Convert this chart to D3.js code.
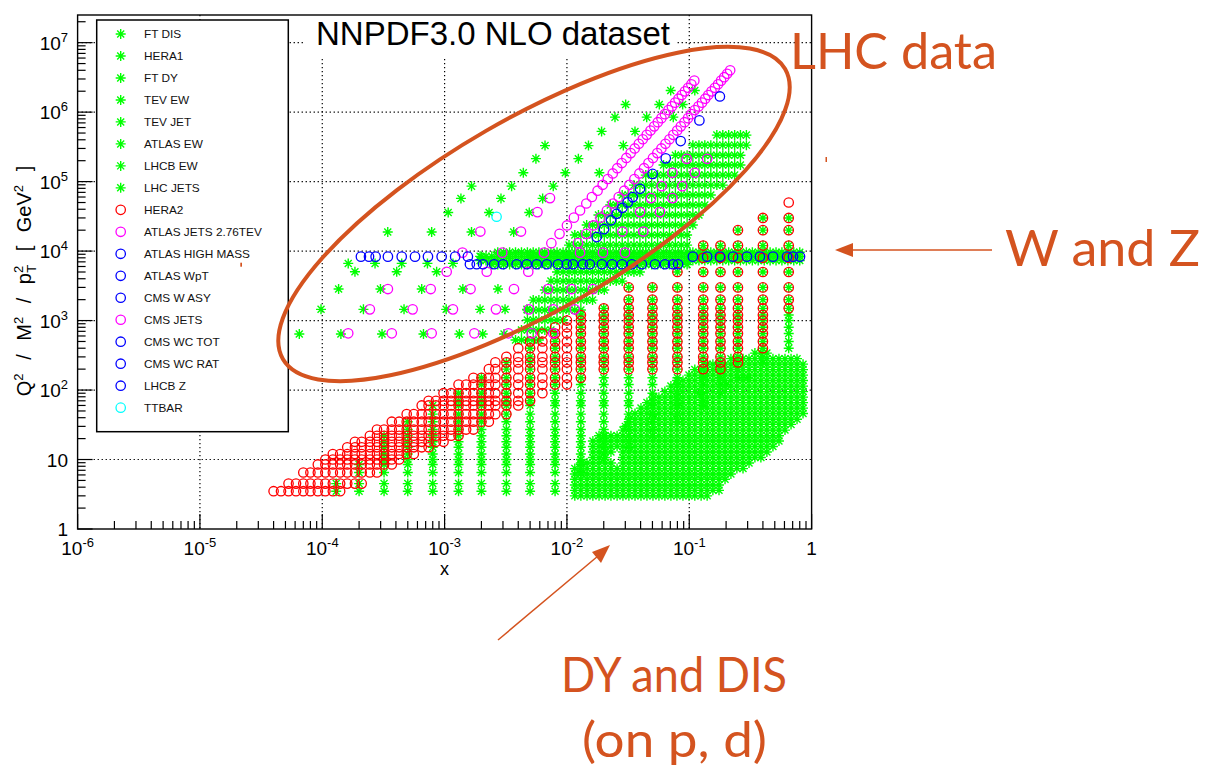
<!DOCTYPE html>
<html>
<head>
<meta charset="utf-8">
<script src="https://cdn.jsdelivr.net/npm/d3@7"></script>
<style>
  body { margin: 0; background: #fff; }
  svg text { font-family: "Liberation Sans", Arial, Helvetica, sans-serif; }
  svg text.note { font-family: Lato, "Open Sans", sans-serif; }
</style>
</head>
<body>
<svg id="chart" width="1205" height="772"></svg>
<script>
// ---- axis labels ----
const xTickLabels = ["10^-6", "10^-5", "10^-4", "10^-3", "10^-2", "10^-1", "1"];
const xTickValues = [1e-6, 1e-5, 1e-4, 1e-3, 1e-2, 1e-1, 1];
const yTickLabels = ["1", "10", "10^2", "10^3", "10^4", "10^5", "10^6", "10^7"];
const yTickValues = [1, 10, 1e2, 1e3, 1e4, 1e5, 1e6, 1e7];

// ---- legend ----
const legendNames = ["FT DIS", "HERA1", "FT DY", "TEV EW", "TEV JET", "ATLAS EW", "LHCB EW", "LHC JETS",
  "HERA2", "ATLAS JETS 2.76TEV", "ATLAS HIGH MASS", "ATLAS WpT", "CMS W ASY", "CMS JETS",
  "CMS WC TOT", "CMS WC RAT", "LHCB Z", "TTBAR"];

// ---- bins (x or Q2 values shared by the gridded data sets) ----
const heraQ2 = [3.5, 4.5, 6.5, 8.5, 10, 12, 15, 18, 22, 27, 35, 45, 60, 70, 90, 120, 150, 200, 250, 300,
  400, 500, 650, 800, 1000, 1200, 1500, 2000, 3000, 5000, 8000, 12000, 20000, 30000, 50000];
const heraX = [4.0e-5, 4.6e-5, 5.3e-5, 6.1e-5, 7.0e-5, 8.0e-5, 9.2e-5, 1.06e-4, 1.22e-4, 1.4e-4, 1.6e-4,
  1.85e-4, 2.1e-4, 2.45e-4, 2.8e-4, 3.2e-4, 3.7e-4, 4.25e-4, 4.9e-4, 5.6e-4, 6.5e-4, 7.4e-4, 8.5e-4,
  9.8e-4, 1.13e-3, 1.3e-3, 1.5e-3, 1.72e-3, 2.0e-3, 2.3e-3, 2.6e-3, 3.2e-3, 4.0e-3, 5.0e-3, 6.3e-3,
  8.0e-3, 1.0e-2, 1.3e-2, 2.0e-2, 3.2e-2, 5.0e-2, 8.0e-2, 0.13, 0.18, 0.25, 0.4, 0.65];
const ftQ2 = [3, 3.6, 4.3, 5.2, 6.2, 7.4, 8.9, 10.7, 12.8, 15.4, 18.5, 22, 26.5, 32, 38, 46, 55, 66, 79,
  95, 114, 137, 164, 197, 236, 283, 340];
const fineX = [1.0e-3, 1.12e-3, 1.25e-3, 1.4e-3, 1.56e-3, 1.74e-3, 1.95e-3, 2.18e-3, 2.43e-3, 2.72e-3,
  3.04e-3, 3.4e-3, 3.8e-3, 4.25e-3, 4.75e-3, 5.3e-3, 5.9e-3, 6.6e-3, 7.4e-3, 8.3e-3, 9.3e-3, 1.04e-2,
  1.16e-2, 1.3e-2, 1.45e-2, 1.62e-2, 1.81e-2, 2.02e-2, 2.26e-2, 2.53e-2, 2.83e-2, 3.16e-2, 3.53e-2,
  3.95e-2, 4.41e-2, 4.93e-2, 5.51e-2, 6.16e-2, 6.89e-2, 7.7e-2, 8.6e-2, 9.6e-2, 0.107, 0.12, 0.134,
  0.15, 0.168, 0.188, 0.21, 0.235, 0.262, 0.293, 0.328, 0.366, 0.41, 0.458, 0.512, 0.572, 0.64, 0.715, 0.8];

// ---- FT DIS: [x, Q2 min, Q2 max] per column ----
const ftDisCols = [
  [0.0116, 3, 8.3], [0.013, 3, 8.9], [0.0146, 3, 9], [0.0163, 3, 21], [0.0183, 3, 22], [0.0205, 3, 23],
  [0.0229, 3, 9], [0.0229, 12.8, 22], [0.0257, 3, 7.4], [0.0257, 15, 25], [0.0287, 3, 31], [0.0321, 3, 39],
  [0.036, 3, 51], [0.0403, 3, 65], [0.0451, 3, 77], [0.0505, 3, 90], [0.0565, 3, 92], [0.0632, 3, 100],
  [0.0708, 3, 118], [0.0793, 3, 139], [0.0888, 3, 154], [0.0994, 3, 182], [0.111, 3, 207], [0.125, 3, 220],
  [0.14, 3, 237], [0.156, 3.2, 252], [0.175, 3.6, 270], [0.196, 4.4, 280], [0.219, 5.4, 298],
  [0.245, 6.4, 307], [0.275, 7, 319], [0.308, 7.8, 330], [0.344, 9.2, 341], [0.385, 10, 341],
  [0.431, 11.6, 341], [0.483, 14, 330], [0.541, 18, 319], [0.606, 24, 307], [0.679, 30, 298],
  [0.76, 36, 290], [0.851, 39, 270]
];

// ---- HERA1: [x, Q2 min, Q2 max] per column ----
const hera1Cols = [
  [1.3e-4, 3.5, 4.5], [2.0e-4, 3.5, 8.5], [3.2e-4, 3.5, 22], [5.0e-4, 3.5, 35], [8.0e-4, 3.5, 60],
  [1.3e-3, 3.5, 90], [2.0e-3, 3.5, 150], [3.2e-3, 3.5, 250], [5.0e-3, 3.5, 400], [8.0e-3, 3.5, 650],
  [1.3e-2, 6.5, 1200], [2.0e-2, 10, 1500], [3.2e-2, 15, 3000], [5.0e-2, 22, 3000], [8.0e-2, 35, 5000],
  [0.13, 60, 12000], [0.18, 90, 12000], [0.25, 150, 20000], [0.4, 250, 30000], [0.65, 400, 30000]
];

// ---- HERA2: [Q2, x min, x max] per row ----
const hera2Rows = [
  [3.5, 4.0e-5, 1.4e-4], [4.5, 5.3e-5, 2.1e-4], [6.5, 7.0e-5, 2.8e-4], [8.5, 9.2e-5, 3.7e-4],
  [10, 1.06e-4, 4.25e-4], [12, 1.22e-4, 5.6e-4], [15, 1.6e-4, 7.4e-4], [18, 1.85e-4, 9.8e-4],
  [22, 2.45e-4, 1.3e-3], [27, 2.8e-4, 1.72e-3], [35, 3.7e-4, 2.3e-3], [45, 4.9e-4, 3.2e-3],
  [60, 6.5e-4, 4.0e-3], [70, 7.4e-4, 5.0e-3], [90, 9.8e-4, 6.3e-3], [120, 1.3e-3, 1.0e-2],
  [150, 1.72e-3, 1.3e-2], [200, 2.3e-3, 0.18], [250, 2.6e-3, 0.25], [300, 3.2e-3, 0.25],
  [400, 4.0e-3, 0.4], [500, 5.0e-3, 0.4], [650, 6.3e-3, 0.4], [800, 8.0e-3, 0.4], [1000, 1.0e-2, 0.4],
  [1200, 1.3e-2, 0.4], [1500, 2.0e-2, 0.65], [2000, 3.2e-2, 0.65], [3000, 3.2e-2, 0.65],
  [5000, 8.0e-2, 0.65], [8000, 0.13, 0.65], [12000, 0.13, 0.65], [20000, 0.25, 0.65],
  [30000, 0.4, 0.65], [50000, 0.65, 0.65]
];

// ---- LHC jets band: [Q2, x min, x max] per row ----
const lhcJetRows = [
  [4.67e5, 0.163, 0.3], [3.35e5, 0.101, 0.297], [2.4e5, 0.077, 0.285], [1.73e5, 0.058, 0.265],
  [1.24e5, 0.0435, 0.237], [8.9e4, 0.034, 0.2], [6.4e4, 0.027, 0.166], [4.6e4, 0.0218, 0.142],
  [3.3e4, 0.0174, 0.127], [2.37e4, 0.0141, 0.116], [1.7e4, 0.0115, 0.105], [1.22e4, 0.0094, 0.1],
  [4990, 8.1e-3, 0.0396], [3700, 7.0e-3, 0.0298], [2750, 6.0e-3, 0.0224], [1970, 5.3e-3, 0.017],
  [1420, 4.7e-3, 0.013], [1020, 4.3e-3, 0.0103], [730, 4.0e-3, 8.0e-3], [524, 3.7e-3, 6.0e-3]
];

// ---- ATLAS EW, W/Z band: [Q2, x min, x max] per row ----
const atlasEwRows = [
  [9600, 2.7e-3, 0.8], [8400, 1.9e-3, 0.8], [7300, 1.9e-3, 0.8], [6400, 2.4e-3, 0.1]
];

// ---- points [x, Q2] ----
const ftDyPts = [[0.03, 30], [0.05, 45], [0.08, 60], [0.12, 90], [0.2, 120], [0.3, 150]];
const tevEwPts = [[2e-3, 8315], [5e-3, 8315], [1e-2, 8315], [2e-2, 8315], [5e-2, 8315], [0.1, 8315],
  [0.2, 8315], [0.4, 8315]];
const lhcbEwPts = [[3.88e-5, 6650], [1.63e-4, 6650], [2.7e-4, 6650], [4.46e-4, 6650], [7.24e-4, 6650],
  [1.17e-3, 6650], [1.85e-4, 5040], [4.06e-4, 5040], [8.61e-4, 5040]];
const tevJetPts = [
  [6.49e-5, 640], [1.42e-4, 640], [3.08e-4, 640], [6.72e-4, 640], [1.32e-3, 640], [2.05e-3, 640], [3.06e-3, 640],
  [9.77e-5, 1450], [2.17e-4, 1450], [4.66e-4, 1450], [1.03e-3, 1450], [1.95e-3, 1450], [3.12e-3, 1450], [4.71e-3, 1450],
  [1.36e-4, 2840], [2.99e-4, 2840], [6.5e-4, 2840], [1.41e-3, 2840], [2.73e-3, 2840],
  [3.43e-4, 1.88e4], [7.84e-4, 1.88e4], [1.66e-3, 1.88e4], [3.67e-3, 1.88e4],
  [1.07e-3, 3.6e4], [2.31e-3, 3.6e4], [4.92e-3, 3.6e4],
  [1.36e-3, 5.73e4], [2.89e-3, 5.73e4], [6.33e-3, 5.73e4],
  [1.66e-3, 8.6e4], [3.53e-3, 8.6e4], [7.73e-3, 8.6e4],
  [4.4e-3, 1.34e5], [9.7e-3, 1.34e5], [1.84e-2, 1.34e5],
  [5.58e-3, 2.14e5], [1.24e-2, 2.14e5],
  [6.62e-3, 3.3e5], [1.5e-2, 3.3e5], [2.89e-2, 3.3e5],
  [1.92e-2, 5.28e5], [3.6e-2, 5.28e5],
  [2.47e-2, 8.47e5], [4.49e-2, 8.47e5], [7.4e-2, 8.47e5],
  [3.02e-2, 1.29e6], [5.69e-2, 1.29e6], [8.83e-2, 1.29e6],
  [7.05e-2, 2.05e6], [0.111, 2.05e6]
];
const atlasJets276Pts = [
  [0.0123, 1.3e4], [0.0144, 1.77e4], [0.0165, 2.34e4], [0.0188, 3.03e4], [0.0212, 3.84e4], [0.0238, 4.84e4],
  [0.0265, 6.0e4], [0.0294, 7.4e4], [0.0324, 9.0e4], [0.0356, 1.09e5], [0.0391, 1.31e5], [0.0427, 1.56e5],
  [0.0464, 1.85e5], [0.0505, 2.19e5], [0.0548, 2.57e5], [0.0592, 3.0e5], [0.0639, 3.5e5], [0.0689, 4.07e5],
  [0.0741, 4.71e5], [0.0796, 5.43e5], [0.0853, 6.24e5], [0.0914, 7.16e5], [0.0977, 8.19e5], [0.104, 9.35e5],
  [0.111, 1.07e6], [0.119, 1.21e6], [0.127, 1.37e6], [0.135, 1.56e6], [0.143, 1.76e6], [0.152, 1.99e6],
  [0.162, 2.24e6], [0.172, 2.52e6], [0.182, 2.84e6], [0.193, 3.18e6], [0.204, 3.57e6], [0.216, 4.0e6]
];
const cmsJetsPts = [
  [7.46e-3, 1.3e4], [8.7e-3, 1.77e4], [1.0e-2, 2.34e4], [1.14e-2, 3.03e4], [1.28e-2, 3.84e4], [1.44e-2, 4.84e4],
  [1.6e-2, 6.0e4], [1.78e-2, 7.4e4], [1.96e-2, 9.0e4], [2.16e-2, 1.09e5], [2.37e-2, 1.31e5], [2.58e-2, 1.56e5],
  [2.81e-2, 1.85e5], [3.06e-2, 2.19e5], [3.32e-2, 2.57e5], [3.58e-2, 3.0e5], [3.87e-2, 3.5e5], [4.17e-2, 4.07e5],
  [4.49e-2, 4.71e5], [4.82e-2, 5.43e5], [5.17e-2, 6.24e5], [5.53e-2, 7.16e5], [5.92e-2, 8.19e5], [6.32e-2, 9.35e5],
  [6.75e-2, 1.07e6], [7.2e-2, 1.21e6], [7.66e-2, 1.37e6], [8.16e-2, 1.56e6], [8.68e-2, 1.76e6], [9.22e-2, 1.99e6],
  [9.79e-2, 2.24e6], [0.104, 2.52e6], [0.11, 2.84e6],
  [1.63e-4, 655], [3.7e-4, 655], [7.84e-4, 655], [1.75e-3, 655], [3.32e-3, 655], [5.15e-3, 655], [7.73e-3, 655],
  [2.45e-4, 1450], [5.48e-4, 1450], [1.17e-3, 1450], [2.63e-3, 1450], [4.89e-3, 1450], [7.73e-3, 1450], [1.16e-2, 1450],
  [3.44e-4, 2840], [7.7e-4, 2840], [1.63e-3, 2840], [3.69e-3, 2840], [7.0e-3, 2840], [1.09e-2, 2840], [1.63e-2, 2840],
  [1.04e-3, 5040], [2.21e-3, 5040], [4.83e-3, 5040],
  [1.4e-3, 9500], [2.96e-3, 9500], [6.49e-3, 9500], [1.28e-2, 9500], [1.97e-2, 9500], [2.98e-2, 9500],
  [1.96e-3, 1.91e4], [4.21e-3, 1.91e4], [2.84e-2, 1.91e4], [4.21e-2, 1.91e4],
  [5.74e-3, 3.64e4], [3.96e-2, 3.64e4], [5.76e-2, 3.64e4],
  [7.27e-3, 5.79e4], [4.86e-2, 5.79e4], [7.29e-2, 5.79e4],
  [5.95e-2, 8.6e4], [8.77e-2, 8.6e4], [7.29e-2, 1.34e5], [0.111, 1.34e5], [9.53e-2, 2.13e5], [0.14, 2.13e5]
];
const atlasHighMassPts = [
  [0.0175, 1.59e4], [0.0201, 2.07e4], [0.0229, 2.77e4], [0.0255, 3.44e4], [0.0284, 4.2e4], [0.0314, 5.02e4],
  [0.0345, 5.98e4], [0.0396, 7.87e4], [0.0502, 1.29e5], [0.0642, 2.16e5], [0.0851, 3.83e5], [0.121, 7.6e5],
  [0.178, 1.68e6]
];
const atlasWptPts = [[1.54e-2, 6464], [1.93e-2, 6464], [2.34e-2, 6464], [2.82e-2, 6464], [3.4e-2, 6464],
  [4.1e-2, 6464], [5.24e-2, 6464], [6.33e-2, 6464], [7.36e-2, 6464], [8.1e-2, 6464]];
const cmsWasyPts = [[1.61e-3, 6464], [1.83e-3, 6464], [2.06e-3, 6464], [2.54e-3, 6464], [3.0e-3, 6464],
  [3.88e-3, 6464], [4.69e-3, 6464], [5.66e-3, 6464], [6.84e-3, 6464]];
const cmsWcTotPts = [[8.46e-3, 6464], [9.96e-3, 6464]];
const cmsWcRatPts = [[1.12e-2, 6464], [1.35e-2, 6464]];
const lhcbZPts = [[2.07e-4, 8315], [2.41e-4, 8315], [2.73e-4, 8315], [3.44e-4, 8315], [4.46e-4, 8315],
  [5.73e-4, 8315], [7.31e-4, 8315], [9.46e-4, 8315], [1.22e-3, 8315], [1.55e-3, 8315],
  [0.107, 8315], [0.14, 8315], [0.178, 8315], [0.228, 8315], [0.296, 8315], [0.378, 8315],
  [0.484, 8315], [0.63, 8315], [0.705, 8315], [0.804, 8315]];
const ttbarPts = [[2.66e-3, 3.12e4]];

// ---- expand the gridded tables into points ----
function colsToPoints(cols, bins) {
  const pts = [];
  cols.forEach(([xv, lo, hi]) => {
    bins.forEach(q => { if (q >= lo * 0.999 && q <= hi * 1.001) pts.push([xv, q]); });
  });
  return pts;
}
function rowsToPoints(rows, bins) {
  const pts = [];
  rows.forEach(([q, lo, hi]) => {
    bins.forEach(xv => { if (xv >= lo * 0.999 && xv <= hi * 1.001) pts.push([xv, q]); });
  });
  return pts;
}

const GREEN = "#00ff00", RED = "#ff0000", MAGENTA = "#ff00ff", BLUE = "#0000ff", CYAN = "#00ffff";
const ORANGE = "#d4531f";

// marker and data of every set, in legend order
const setPoints = {
  "FT DIS": colsToPoints(ftDisCols, ftQ2),
  "HERA1": colsToPoints(hera1Cols, heraQ2),
  "FT DY": ftDyPts,
  "TEV EW": tevEwPts,
  "TEV JET": tevJetPts,
  "ATLAS EW": rowsToPoints(atlasEwRows, fineX),
  "LHCB EW": lhcbEwPts,
  "LHC JETS": rowsToPoints(lhcJetRows, fineX),
  "HERA2": rowsToPoints(hera2Rows, heraX),
  "ATLAS JETS 2.76TEV": atlasJets276Pts,
  "ATLAS HIGH MASS": atlasHighMassPts,
  "ATLAS WpT": atlasWptPts,
  "CMS W ASY": cmsWasyPts,
  "CMS JETS": cmsJetsPts,
  "CMS WC TOT": cmsWcTotPts,
  "CMS WC RAT": cmsWcRatPts,
  "LHCB Z": lhcbZPts,
  "TTBAR": ttbarPts
};
const setColor = name => {
  if (name === "HERA2") return RED;
  if (name === "TTBAR") return CYAN;
  if (name === "ATLAS JETS 2.76TEV" || name === "CMS JETS") return MAGENTA;
  return legendNames.indexOf(name) < 8 ? GREEN : BLUE;
};
const sets = legendNames.map((name, i) => ({
  name: name,
  shape: i < 8 ? "star" : "circle",
  color: setColor(name),
  pts: setPoints[name]
}));

// ---- layout ----
const plot = { left: 77.6, right: 811.6, top: 15, bottom: 529 };
const svg = d3.select("#chart");

const x = d3.scaleLog().domain([1e-6, 1]).range([plot.left, plot.right]);
const y = d3.scaleLog().domain([1, 2.5e7]).range([plot.bottom, plot.top]);

const STAR = "M-5,0H5M0,-5V5M-3.5,-3.5L3.5,3.5M-3.5,3.5L3.5,-3.5";

// grid
const grid = svg.append("g").attr("stroke", "#000").attr("stroke-width", 1.2)
  .attr("stroke-dasharray", "1.3,2.7");
grid.selectAll(".gx").data(xTickValues.slice(1, -1)).join("line")
  .attr("x1", d => x(d)).attr("x2", d => x(d)).attr("y1", plot.top).attr("y2", plot.bottom);
grid.selectAll(".gy").data(yTickValues.slice(1)).join("line")
  .attr("x1", plot.left).attr("x2", plot.right).attr("y1", d => y(d)).attr("y2", d => y(d));

// markers: stars first, circles on top
function drawSet(g, s) {
  if (s.shape === "star") {
    g.selectAll(null).data(s.pts).join("path")
      .attr("d", STAR)
      .attr("transform", d => `translate(${x(d[0])},${y(d[1])})`)
      .attr("stroke", s.color).attr("stroke-width", 1.4).attr("fill", "none");
  } else {
    g.selectAll(null).data(s.pts).join("circle")
      .attr("cx", d => x(d[0])).attr("cy", d => y(d[1])).attr("r", 4.7)
      .attr("stroke", s.color).attr("stroke-width", 1.3).attr("fill", "none");
  }
}
const marks = svg.append("g");
sets.filter(s => s.shape === "star").forEach(s => drawSet(marks.append("g"), s));
const circleOrder = ["HERA2", "CMS JETS", "ATLAS JETS 2.76TEV", "ATLAS HIGH MASS", "ATLAS WpT", "CMS W ASY",
  "CMS WC TOT", "CMS WC RAT", "LHCB Z", "TTBAR"];
circleOrder.forEach(n => drawSet(marks.append("g"), sets.find(s => s.name === n)));

// title box
svg.append("rect").attr("x", 303).attr("y", 12).attr("width", 373).attr("height", 46).attr("fill", "#fff");
svg.append("text").attr("x", 493).attr("y", 45).attr("text-anchor", "middle")
  .attr("font-size", 33).text("NNPDF3.0 NLO dataset");

// legend
const legend = svg.append("g");
legend.append("rect").attr("x", 96.7).attr("y", 20).attr("width", 191.6).attr("height", 411.7)
  .attr("fill", "#fff").attr("stroke", "#000").attr("stroke-width", 1.5);
sets.forEach((s, i) => {
  const ly = 34 + i * 21.98;
  if (s.shape === "star") {
    legend.append("path").attr("d", STAR).attr("transform", `translate(120.7,${ly})`)
      .attr("stroke", s.color).attr("stroke-width", 1.4).attr("fill", "none");
  } else {
    legend.append("circle").attr("cx", 120.7).attr("cy", ly).attr("r", 4.7)
      .attr("stroke", s.color).attr("stroke-width", 1.3).attr("fill", "none");
  }
  legend.append("text").attr("x", 144).attr("y", ly + 4.2).attr("font-size", 11.8)
    .attr("fill", "#111").text(s.name);
});

// axes
const axes = svg.append("g").attr("stroke", "#000").attr("stroke-width", 1.2);
const isMajor = v => Math.abs(Math.log10(v) - Math.round(Math.log10(v))) < 1e-6;
axes.selectAll(".tx").data(x.ticks()).join("line")
  .attr("x1", d => x(d)).attr("x2", d => x(d))
  .attr("y1", plot.bottom).attr("y2", d => plot.bottom - (isMajor(d) ? 15 : 8));
axes.selectAll(".ty").data(y.ticks()).join("line")
  .attr("y1", d => y(d)).attr("y2", d => y(d))
  .attr("x1", plot.left).attr("x2", d => plot.left + (isMajor(d) ? 15 : 8));
svg.append("rect").attr("x", plot.left).attr("y", plot.top)
  .attr("width", plot.right - plot.left).attr("height", plot.bottom - plot.top)
  .attr("fill", "none").attr("stroke", "#000").attr("stroke-width", 1.4);

function powLabel(t, label, supSize, rise) {
  const parts = label.split("^");
  t.append("tspan").text(parts[0]);
  if (parts[1]) t.append("tspan").attr("font-size", supSize).attr("dy", -rise).text(parts[1]);
}
xTickValues.forEach((v, i) => {
  const t = svg.append("text").attr("x", x(v)).attr("y", 555).attr("text-anchor", "middle")
    .attr("font-size", 19);
  powLabel(t, xTickLabels[i], 13, 8);
});
yTickValues.forEach((v, i) => {
  const t = svg.append("text").attr("x", 68).attr("y", y(v) + 7).attr("text-anchor", "end")
    .attr("font-size", 19);
  powLabel(t, yTickLabels[i], 13, 8);
});

// axis titles
svg.append("text").attr("x", 444.6).attr("y", 575).attr("text-anchor", "middle")
  .attr("font-size", 18).text("x");
const yt = svg.append("text").attr("transform", "translate(31,281) rotate(-90)")
  .attr("text-anchor", "middle").attr("font-size", 20).style("word-spacing", "8px");
yt.append("tspan").text("Q");
yt.append("tspan").attr("font-size", 13).attr("dy", -8).text("2");
yt.append("tspan").attr("dy", 8).text(" / M");
yt.append("tspan").attr("font-size", 13).attr("dy", -8).text("2");
yt.append("tspan").attr("dy", 8).text(" / p");
yt.append("tspan").attr("font-size", 13).attr("dy", -8).text("2");
yt.append("tspan").attr("font-size", 13).attr("dx", -7).attr("dy", 13).text("T");
yt.append("tspan").attr("dy", -5).text(" [ GeV");
yt.append("tspan").attr("font-size", 13).attr("dy", -8).text("2");
yt.append("tspan").attr("dy", 8).text(" ]");

// ---- slide annotations ----
svg.append("ellipse").attr("cx", 534).attr("cy", 214).attr("rx", 290).attr("ry", 96)
  .attr("transform", "rotate(-30,534,214)")
  .attr("fill", "none").attr("stroke", ORANGE).attr("stroke-width", 4);

const note = svg.append("g").attr("fill", ORANGE);
// text, left edge, baseline, font size, width on the slide
const noteTexts = [["LHC data", 790, 69, 50, 207], ["W and Z", 1005, 266, 50, 195],
  ["DY and DIS", 561, 692, 49, 226], ["(on p, d)", 582, 757, 48, 185]];
noteTexts.forEach(([txt, nx, ny, fs, nw]) => {
  note.append("text").attr("class", "note").attr("x", nx).attr("y", ny)
    .attr("font-size", fs).attr("textLength", nw).attr("lengthAdjust", "spacingAndGlyphs")
    .text(txt);
});
svg.append("line").attr("x1", 992).attr("y1", 250).attr("x2", 850).attr("y2", 250)
  .attr("stroke", ORANGE).attr("stroke-width", 1.5);
note.append("path").attr("d", "M835,250L853,243L853,257Z");
svg.append("line").attr("x1", 498).attr("y1", 640).attr("x2", 598).attr("y2", 556)
  .attr("stroke", ORANGE).attr("stroke-width", 1.5);
note.append("path").attr("d", "M610,545L592,552L601,563Z");
note.append("rect").attr("x", 240.3).attr("y", 262.7).attr("width", 1.7).attr("height", 4);
note.append("rect").attr("x", 825.5).attr("y", 157).attr("width", 1.5).attr("height", 5);
</script>
</body>
</html>
